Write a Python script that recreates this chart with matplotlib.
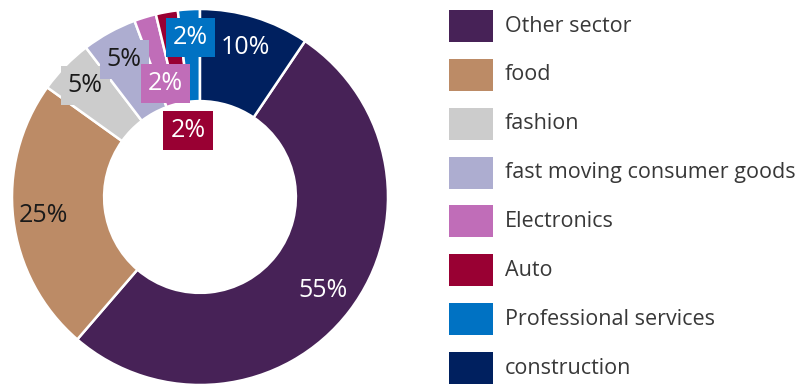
import matplotlib
matplotlib.use("Agg")
import matplotlib.pyplot as plt
from matplotlib.patches import Rectangle
import numpy as np

# Sector shares (%), in legend order
categories = ["Other sector", "food", "fashion", "fast moving consumer goods",
              "Electronics", "Auto", "Professional services", "construction"]
shares = [55, 25, 5, 5, 2, 2, 2, 10]
labels = ["55%", "25%", "5%", "5%", "2%", "2%", "2%", "10%"]

colors = ["#472257", "#BC8B66", "#CCCCCC", "#ADADD0",
          "#C06DB8", "#990033", "#0072C3", "#00205F"]
text_colors = ["white", "#1a1a1a", "#1a1a1a", "#1a1a1a",
               "white", "white", "white", "white"]
boxed = [False, False, True, True, True, True, True, False]
label_radius = [0.82, 0.84, 0.85, 0.835, 0.63, 0.36, 0.85, 0.83]

plt.rcParams["font.family"] = ["Open Sans", "DejaVu Sans"]

W, H = 805, 384
fig = plt.figure(figsize=(W / 100, H / 100), dpi=100)

# Donut axes: centre (200, 197) px, outer radius 188 px
cx, cy, R = 200, 197, 188
ax = fig.add_axes([(cx - R) / W, (H - cy - R) / H, 2 * R / W, 2 * R / H])

total = sum(shares)
# last category (construction) sits at 12 o'clock, going clockwise
start = 90 - 360 * shares[-1] / total
wedges, _ = ax.pie(shares, colors=colors, startangle=start, counterclock=False,
                   radius=1.0,
                   wedgeprops=dict(width=0.49, edgecolor="white", linewidth=1.8))
for w in wedges:
    w.set_clip_on(False)
ax.set_xlim(-1, 1)
ax.set_ylim(-1, 1)
ax.set_aspect("equal")
ax.axis("off")

for w, lab, tc, bx, r, col in zip(wedges, labels, text_colors, boxed,
                                   label_radius, colors):
    mid = np.deg2rad((w.theta1 + w.theta2) / 2)
    x, y = r * np.cos(mid), r * np.sin(mid)
    kw = {}
    if bx:
        kw["bbox"] = dict(boxstyle="square,pad=0.28", facecolor=col,
                          edgecolor="none")
    ax.text(x, y, lab, ha="center", va="center", color=tc, fontsize=18,
            zorder=5, **kw)

# Legend drawn as a column of swatches with labels
row0, step = 26, 48.86
for i, (cat, col) in enumerate(zip(categories, colors)):
    yc = row0 + i * step
    fig.patches.append(Rectangle((449 / W, (H - yc - 16) / H), 44 / W, 32 / H,
                                 transform=fig.transFigure, facecolor=col,
                                 edgecolor="none"))
    fig.text(505 / W, (H - yc) / H, cat, ha="left", va="center",
             fontsize=15.5, color="#383838", fontweight="medium")

fig.savefig("out.png", dpi=100)
